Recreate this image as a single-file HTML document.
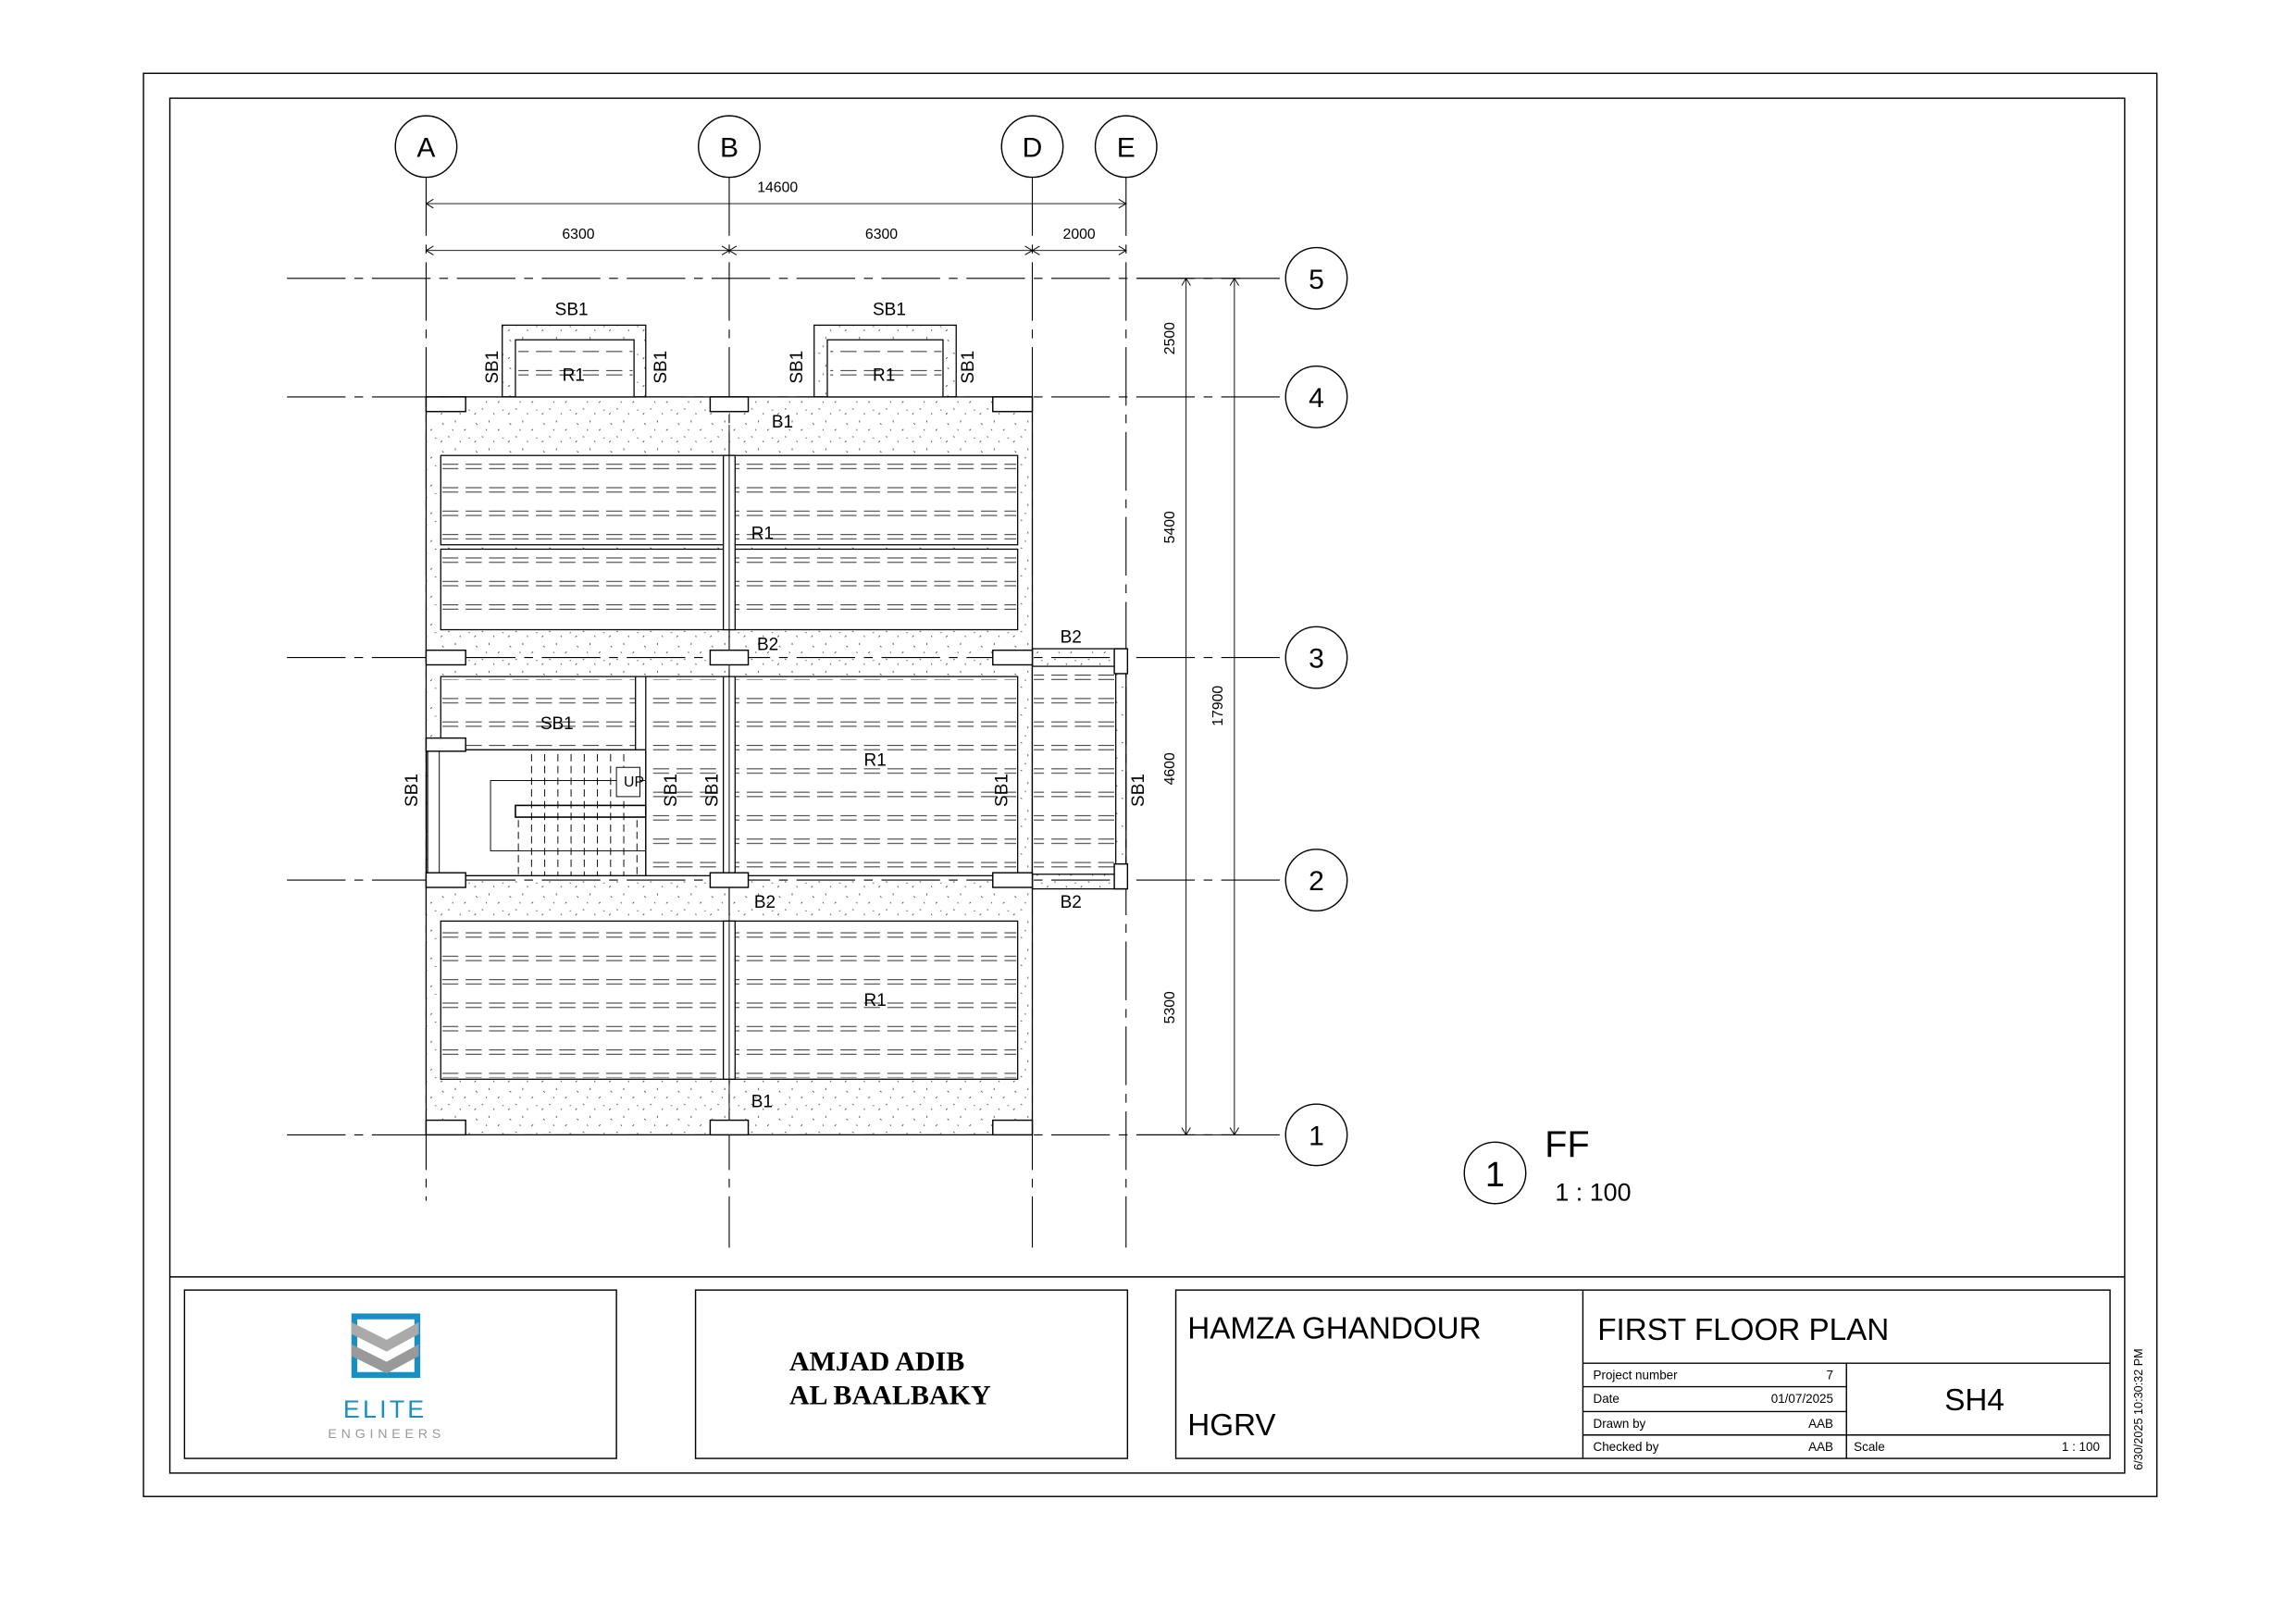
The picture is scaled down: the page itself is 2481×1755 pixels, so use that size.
<!DOCTYPE html>
<html><head><meta charset="utf-8"><style>html,body{margin:0;padding:0;background:#fff}svg{display:block}</style></head><body>
<svg width="2481" height="1755" viewBox="0 0 1568 1109" xmlns="http://www.w3.org/2000/svg" font-family="Liberation Sans, sans-serif">
<defs>
<pattern id="sp" width="23" height="19" patternUnits="userSpaceOnUse">
<g stroke="#333" stroke-width="0.5"><path d="M3 4l1 1M12 2l0 1.4M18 9l1-1M7 13l1 .5M15 16l.5 1M21 14l1 0M2 17l1-1M10 8l.4 1"/></g>
</pattern>
<pattern id="hx" x="301" y="311" width="16" height="16" patternUnits="userSpaceOnUse">
<g stroke="#444" stroke-width="0.7"><path d="M1 6h11M1 9h11"/></g>
</pattern>
</defs>
<rect width="1568" height="1109" fill="#fff"/>
<rect x="98" y="50" width="1375" height="972" fill="none" stroke="#000" stroke-width="0.9"/>
<rect x="116" y="67" width="1335" height="939" fill="none" stroke="#000" stroke-width="0.9"/>
<line x1="116" y1="872" x2="1451" y2="872" stroke="#000" stroke-width="0.9"/>

<g stroke="#000" stroke-width="0.7" stroke-dasharray="40,6,6,6">
<line x1="291" y1="121" x2="291" y2="820"/>
<line x1="498" y1="121" x2="498" y2="852"/>
<line x1="705" y1="121" x2="705" y2="852"/>
<line x1="769" y1="121" x2="769" y2="852"/>
<line x1="196" y1="190" x2="878" y2="190"/>
<line x1="196" y1="271" x2="878" y2="271"/>
<line x1="196" y1="449" x2="878" y2="449"/>
<line x1="196" y1="601" x2="878" y2="601"/>
<line x1="196" y1="775" x2="878" y2="775"/>
</g>
<g fill="#fff" stroke="#000" stroke-width="0.9">
<circle cx="291" cy="100" r="21"/><circle cx="498" cy="100" r="21"/><circle cx="705" cy="100" r="21"/><circle cx="769" cy="100" r="21"/>
<circle cx="899" cy="190" r="21"/><circle cx="899" cy="271" r="21"/><circle cx="899" cy="449" r="21"/><circle cx="899" cy="601" r="21"/><circle cx="899" cy="775" r="21"/>
<circle cx="1021" cy="801" r="21"/>
</g>
<g font-size="19" text-anchor="middle">
<text x="291" y="107">A</text><text x="498" y="107">B</text><text x="705" y="107">D</text><text x="769" y="107">E</text>
<text x="899" y="197">5</text><text x="899" y="278">4</text><text x="899" y="456">3</text><text x="899" y="608">2</text><text x="899" y="782">1</text>
<text x="1021" y="810" font-size="24">1</text>
</g>
<text x="1055" y="790" font-size="25">FF</text>
<text x="1062" y="820" font-size="17">1 : 100</text>

<g stroke="#000" stroke-width="0.6" fill="none">
<line x1="291" y1="139" x2="769" y2="139"/>
<line x1="291" y1="171" x2="769" y2="171"/>
<line x1="810" y1="190" x2="810" y2="775"/>
<line x1="843" y1="190" x2="843" y2="775"/>
<path d="M296 136l-5 3 5 3M764 136l5 3-5 3M296 168l-5 3 5 3M764 168l5 3-5 3M493 168l5 3-5 3M503 168l-5 3 5 3M700 168l5 3-5 3M710 168l-5 3 5 3"/>
<path d="M807 195l3-5 3 5M807 770l3 5 3-5M840 195l3-5 3 5M840 770l3 5 3-5"/>
<path d="M777 190h70M777 271h37M777 449h37M777 601h37M777 775h70"/>
</g>
<g font-size="10" text-anchor="middle">
<text x="531" y="131">14600</text><text x="395" y="163">6300</text><text x="602" y="163">6300</text><text x="737" y="163">2000</text>
<text transform="translate(802,231) rotate(-90)">2500</text>
<text transform="translate(802,360) rotate(-90)">5400</text>
<text transform="translate(802,525) rotate(-90)">4600</text>
<text transform="translate(802,688) rotate(-90)">5300</text>
<text transform="translate(835,482) rotate(-90)">17900</text>
</g>

<rect x="291" y="271" width="414" height="504" fill="url(#sp)" stroke="#000" stroke-width="0.8"/>
<rect x="705" y="443" width="64" height="164" fill="url(#sp)" stroke="#000" stroke-width="0.8"/>
<rect x="343" y="222" width="98" height="49" fill="url(#sp)" stroke="#000" stroke-width="0.8"/>
<rect x="556" y="222" width="97" height="49" fill="url(#sp)" stroke="#000" stroke-width="0.8"/>
<g fill="#fff" stroke="#000" stroke-width="0.8">
<rect x="352" y="232" width="81" height="39"/><rect x="565" y="232" width="79" height="39"/>
<rect x="301" y="311" width="394" height="61"/><rect x="301" y="375" width="394" height="55"/>
<rect x="301" y="462" width="394" height="136"/>
<rect x="705" y="455" width="57" height="142"/>
<rect x="301" y="629" width="394" height="108"/>
</g>
<g fill="url(#hx)">
<rect x="354" y="238" width="78" height="30"/><rect x="567" y="238" width="76" height="30"/>
<rect x="302" y="314" width="392" height="56"/><rect x="302" y="378" width="392" height="50"/>
<rect x="302" y="464" width="392" height="46"/><rect x="442" y="510" width="252" height="86"/>
<rect x="706" y="457" width="55" height="138"/>
<rect x="302" y="632" width="392" height="104"/>
</g>
<g stroke="#000" stroke-width="0.8" fill="#fff">
<rect x="494" y="311" width="8" height="119"/><rect x="494" y="462" width="8" height="136"/><rect x="494" y="629" width="8" height="108"/>
<rect x="434" y="462" width="7" height="136"/>
</g>
<line x1="498" y1="290" x2="498" y2="775" stroke="#000" stroke-width="0.6"/>
<rect x="292" y="512" width="149" height="86" fill="#fff" stroke="#000" stroke-width="0.8"/>
<rect x="300" y="512" width="141" height="86" fill="none" stroke="#000" stroke-width="0.6"/>
<rect x="335" y="533" width="106" height="48" fill="none" stroke="#000" stroke-width="0.6"/>
<rect x="352" y="550" width="89" height="8" fill="none" stroke="#000" stroke-width="1"/>
<g stroke="#000" stroke-width="0.6" stroke-dasharray="5,3">
<path d="M363 515v83M372 515v83M381 515v83M390 515v83M399 515v83M408 515v83M417 515v83M426 515v83M354 560v38M435 560v38"/>
</g>
<rect x="421" y="524" width="16" height="20" fill="#fff" stroke="#000" stroke-width="0.6"/>
<text x="426" y="537" font-size="10">UP</text>
<g fill="#fff" stroke="#000" stroke-width="0.9">
<rect x="291" y="271" width="27" height="10"/><rect x="485" y="271" width="26" height="10"/><rect x="678" y="271" width="27" height="10"/>
<rect x="291" y="444" width="27" height="10"/><rect x="485" y="444" width="26" height="10"/><rect x="678" y="444" width="27" height="10"/>
<rect x="761" y="443" width="9" height="17"/>
<rect x="291" y="504" width="27" height="9"/>
<rect x="291" y="596" width="27" height="10"/><rect x="485" y="596" width="26" height="10"/><rect x="678" y="596" width="27" height="10"/>
<rect x="761" y="590" width="9" height="17"/>
<rect x="291" y="765" width="27" height="10"/><rect x="485" y="765" width="26" height="10"/><rect x="678" y="765" width="27" height="10"/>
</g>
<g font-size="12">
<text x="379" y="215">SB1</text><text x="596" y="215">SB1</text>
<text x="384" y="260">R1</text><text x="596" y="260">R1</text>
<text x="527" y="292">B1</text><text x="513" y="368">R1</text>
<text x="517" y="444">B2</text><text x="724" y="439">B2</text>
<text x="369" y="498">SB1</text><text x="590" y="523">R1</text>
<text x="515" y="620">B2</text><text x="724" y="620">B2</text>
<text x="590" y="687">R1</text><text x="513" y="756">B1</text>
</g>
<g font-size="12">
<text transform="translate(340,262) rotate(-90)">SB1</text>
<text transform="translate(455,262) rotate(-90)">SB1</text>
<text transform="translate(548,262) rotate(-90)">SB1</text>
<text transform="translate(665,262) rotate(-90)">SB1</text>
<text transform="translate(285,551) rotate(-90)">SB1</text>
<text transform="translate(462,551) rotate(-90)">SB1</text>
<text transform="translate(490,551) rotate(-90)">SB1</text>
<text transform="translate(688,551) rotate(-90)">SB1</text>
<text transform="translate(781,551) rotate(-90)">SB1</text>
</g>

<g fill="none" stroke="#000" stroke-width="0.9">
<rect x="126" y="881" width="295" height="115"/>
<rect x="475" y="881" width="295" height="115"/>
<rect x="803" y="881" width="638" height="115"/>
<path d="M1081 881v115M1081 931h360M1081 947h180M1081 964h180M1081 980h360M1261 931v65"/>
</g>
<rect x="240" y="897" width="47" height="44" fill="#1a8fc4"/>
<rect x="244" y="901" width="39" height="36" fill="#fff"/>
<path d="M240 903l24 12 22-12v8l-22 12-24-12z" fill="#aaa"/>
<path d="M240 918l24 12 22-12v8l-22 12-24-12z" fill="#999"/>
<text x="263" y="968" font-size="17" text-anchor="middle" fill="#1a8fc4" letter-spacing="2">ELITE</text>
<text x="264" y="982" font-size="9" text-anchor="middle" fill="#999" letter-spacing="3">ENGINEERS</text>
<g font-family="Liberation Serif, serif" font-weight="bold" font-size="19">
<text x="539" y="936">AMJAD ADIB</text><text x="539" y="959">AL BAALBAKY</text>
</g>
<g font-size="21">
<text x="811" y="914">HAMZA GHANDOUR</text><text x="811" y="980">HGRV</text>
<text x="1091" y="915">FIRST FLOOR PLAN</text>
<text x="1328" y="963">SH4</text>
</g>
<g font-size="8.5">
<text x="1088" y="942">Project number</text><text x="1252" y="942" text-anchor="end">7</text>
<text x="1088" y="958">Date</text><text x="1252" y="958" text-anchor="end">01/07/2025</text>
<text x="1088" y="975">Drawn by</text><text x="1252" y="975" text-anchor="end">AAB</text>
<text x="1088" y="991">Checked by</text><text x="1252" y="991" text-anchor="end">AAB</text>
<text x="1266" y="991">Scale</text><text x="1434" y="991" text-anchor="end">1 : 100</text>
</g>
<text transform="translate(1463,1004) rotate(-90)" font-size="8">6/30/2025 10:30:32 PM</text>
</svg>
</body></html>
